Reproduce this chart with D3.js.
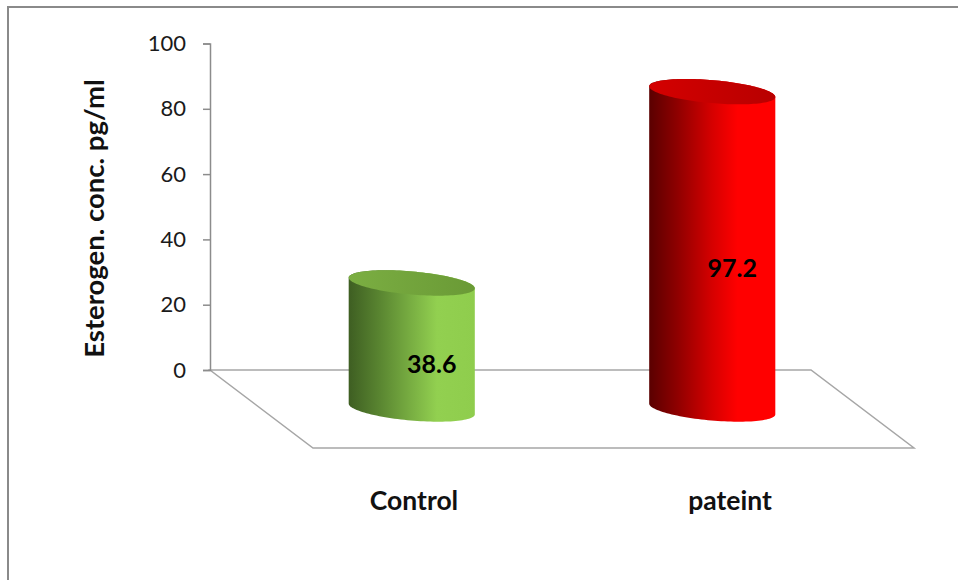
<!DOCTYPE html>
<html>
<head>
<meta charset="utf-8">
<script src="https://cdn.jsdelivr.net/npm/d3@7"></script>
<style>
  html, body { margin: 0; padding: 0; background: #fff; }
  svg { display: block; }
  text { font-family: Lato, "Open Sans", sans-serif; }
</style>
</head>
<body>
<svg id="chart" width="958" height="580"></svg>
<script>
// Chart data
const categories = ["Control", "pateint"];
const values = [38.6, 97.2];
const yTicks = [0, 20, 40, 60, 80, 100];
const yTitle = "Esterogen. conc. pg/ml";

// Fill ramps per series: [body stops, top-cap stops]
const bodyStops = [
  [["0%", "#3e5e22"], ["25%", "#5a8631"], ["70%", "#92d050"], ["100%", "#8fcd4d"]],
  [["0%", "#5a0000"], ["22%", "#8e0000"], ["50%", "#d60000"], ["70%", "#ff0000"], ["100%", "#ff0000"]]
];
const capStops = [
  [["0%", "#7bae42"], ["100%", "#6a9a36"]],
  [["0%", "#d40000"], ["100%", "#b80000"]]
];

const svg = d3.select("#chart");
const defs = svg.append("defs");

// Back wall / floor geometry
const wallLeft = 210, wallRight = 811;
const depthX = 103, depthY = 78;

const y = d3.scaleLinear().domain([0, 100]).range([370, 43.5]);
const x = d3.scaleBand().domain(categories).range([wallLeft, wallRight]);
// Category labels sit along the front of the floor
const xLabel = d3.scalePoint().domain(categories).range([414, 730]);

// Outer frame (open at right and bottom)
svg.append("path")
  .attr("d", "M8,582 L8,7 L960,7")
  .attr("fill", "none")
  .attr("stroke", "#8a8a8a")
  .attr("stroke-width", 2);

// Floor
const y0 = y(0);
svg.append("path")
  .attr("d", `M${wallLeft},${y0} L${wallRight},${y0} L${wallRight + depthX},${y0 + depthY} L${wallLeft + depthX},${y0 + depthY} Z`)
  .attr("fill", "none")
  .attr("stroke", "#a6a6a6")
  .attr("stroke-width", 1.5);

// Y axis
const yAxis = d3.axisLeft(y).tickValues(yTicks).tickSize(7).tickPadding(17);
const gy = svg.append("g").attr("transform", `translate(${wallLeft},0)`).call(yAxis);
gy.select(".domain").attr("stroke", "#8c8c8c").attr("stroke-width", 1.5);
gy.selectAll(".tick line").attr("stroke", "#8c8c8c").attr("stroke-width", 1.5);
gy.selectAll(".tick text")
  .attr("font-family", "Lato, sans-serif")
  .attr("font-size", 22)
  .attr("fill", "#1a1a1a");

// Axis title
svg.append("text")
  .attr("transform", `translate(104,218.5) rotate(-90)`)
  .attr("text-anchor", "middle")
  .attr("font-size", 27.5)
  .attr("font-weight", "bold")
  .attr("fill", "#111")
  .text(yTitle);

// Cylinders
const radiusX = 63.3, radiusY = 11.5, tilt = 5 * Math.PI / 180;
function ellipsePoints(cx, cy) {
  const pts = [];
  for (let i = 0; i < 120; i++) {
    const t = (i / 120) * 2 * Math.PI;
    const ex = radiusX * Math.cos(t), ey = radiusY * Math.sin(t);
    pts.push([cx + ex * Math.cos(tilt) - ey * Math.sin(tilt),
              cy + ex * Math.sin(tilt) + ey * Math.cos(tilt)]);
  }
  return pts;
}
const line = d3.line().curve(d3.curveLinearClosed);

categories.forEach((c, i) => {
  const bg = defs.append("linearGradient").attr("id", "body" + i)
    .attr("x1", "0%").attr("x2", "100%").attr("y1", "0%").attr("y2", "0%");
  bodyStops[i].forEach(s => bg.append("stop").attr("offset", s[0]).attr("stop-color", s[1]));
  const cg = defs.append("linearGradient").attr("id", "cap" + i)
    .attr("x1", "0%").attr("x2", "100%").attr("y1", "0%").attr("y2", "0%");
  capStops[i].forEach(s => cg.append("stop").attr("offset", s[0]).attr("stop-color", s[1]));
});

const bars = svg.append("g");
categories.forEach((c, i) => {
  const cx = x(c) + x.bandwidth() / 2 + depthX / 2;
  const baseY = y(0) + depthY / 2;
  const topY = y(values[i]) + depthY / 2;
  const bottom = ellipsePoints(cx, baseY);
  const top = ellipsePoints(cx, topY);
  const hull = d3.polygonHull(bottom.concat(top));
  bars.append("path").attr("d", line(hull)).attr("fill", `url(#body${i})`);
  bars.append("path").attr("d", line(top)).attr("fill", `url(#cap${i})`);

  // Value label
  svg.append("text")
    .attr("x", cx + 20)
    .attr("y", (baseY + topY) / 2 + 17)
    .attr("text-anchor", "middle")
    .attr("dominant-baseline", "central")
    .attr("font-size", 25)
    .attr("font-weight", "bold")
    .attr("fill", "#000")
    .text(values[i]);
});

// Category labels
svg.append("g").selectAll("text")
  .data(categories)
  .join("text")
  .attr("x", d => xLabel(d))
  .attr("y", 510)
  .attr("text-anchor", "middle")
  .attr("font-size", 26.5)
  .attr("font-weight", "bold")
  .attr("fill", "#111")
  .text(d => d);
</script>
</body>
</html>
